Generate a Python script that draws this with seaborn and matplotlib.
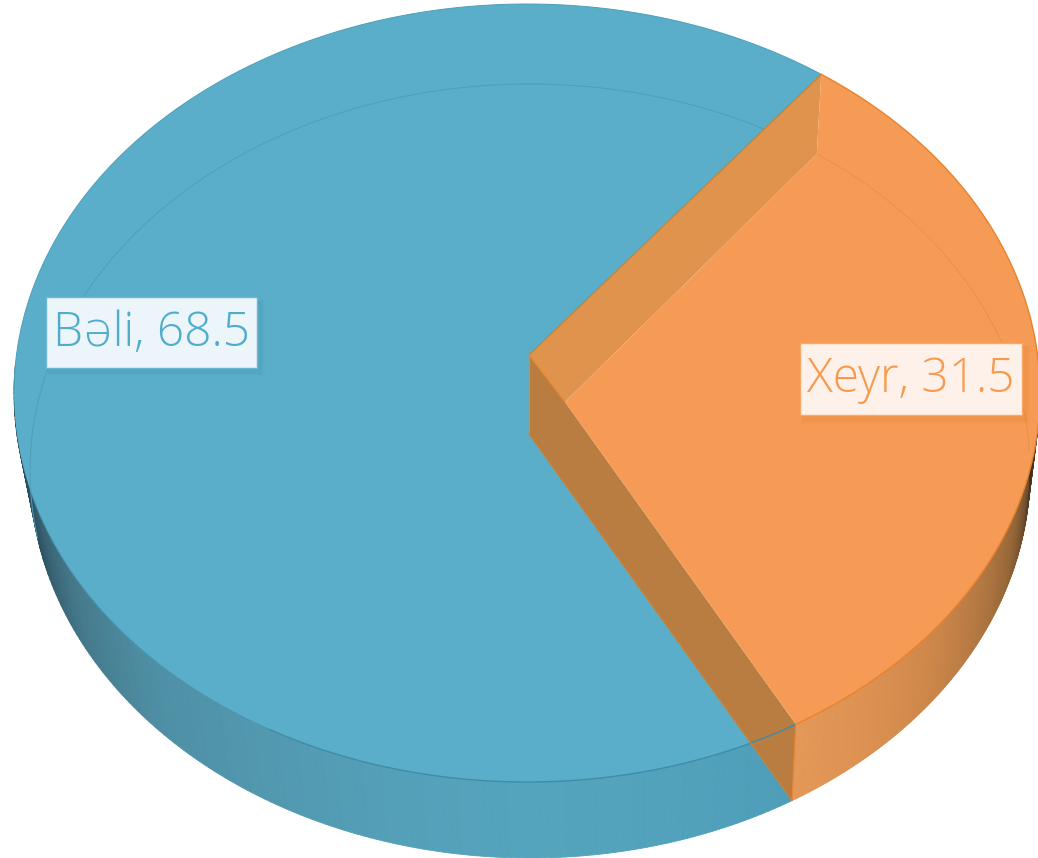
# 3D style pie: perspective top rim and base rim, walls of the cut-out slice
import numpy as np
import matplotlib
matplotlib.use("Agg")
import matplotlib.pyplot as plt
from matplotlib.patches import Polygon, Rectangle
import seaborn as sns

LABELS = ["Bəli", "Xeyr"]
VALUES = [68.5, 31.5]
START_ANGLE = 55.0  # where the orange slice begins, going clockwise

COLORS = ["#5AAEC9", "#F59B55"]
TEXT_COLORS = ["#4FADCB", "#F79A4E"]
BOX_COLORS = ["#ECF5F9", "#FDF1E9"]
BOX_EDGES = ["#6BB8D0", "#F8A867"]
SHADOWS = ["#3F8DA8", "#E0782A"]
BOXES = [(46, 297, 211, 71), (800, 343, 222, 72)]
FONT_SIZES = [34.5, 34.5]

TOP = (527, 393, 513, 389)
BASE = (530, 471, 500, 387)
APEX_TOP = (529, 355)
APEX_BASE = (529, 434)
APEX_INNER = (565, 402)

sns.set_theme(style="white")
plt.rcParams["font.family"] = ["Open Sans", "DejaVu Sans"]


def rim(ellipse, deg):
    cx, cy, a, b = ellipse
    t = np.radians(deg)
    return np.column_stack([cx + a * np.cos(t), cy - b * np.sin(t)])


def draw_band(ax, start, end, stops, n=160):
    angles = np.linspace(start, end, n + 1)
    shades = sns.blend_palette(stops, n)
    for i in range(n):
        pair = angles[i:i + 2]
        quad = np.vstack([rim(TOP, pair), rim(BASE, pair[::-1])])
        ax.add_patch(Polygon(quad, closed=True, fc=shades[i], ec=shades[i], lw=0.6, zorder=1))


def draw_label(ax, text, box, size, color, face, edge, shadow):
    x, y, w, h = box
    for grow, alpha in [(7, 0.06), (4, 0.08), (2, 0.10)]:
        ax.add_patch(Rectangle((x + 4 - grow / 2, y + 5 - grow / 2), w + grow, h + grow,
                               fc=shadow, ec="none", alpha=alpha, zorder=6))
    ax.add_patch(Rectangle((x, y), w, h, fc=face, ec=edge, lw=1, zorder=7))
    ax.text(x + w / 2, y + h / 2 + 1, text, color=color, fontsize=size, fontweight="light",
            ha="center", va="center", zorder=8)


fig = plt.figure(figsize=(10.38, 8.58), dpi=100, facecolor="white")
ax = fig.add_axes([0, 0, 1, 1])
ax.set_xlim(0, 1038)
ax.set_ylim(858, 0)
ax.axis("off")

sweep = VALUES[1] / sum(VALUES) * 360
end_angle = START_ANGLE - sweep

# outer side walls
draw_band(ax, 176, 360 + end_angle,
          ["#1C2E36", "#2C4F5E", "#44798A", "#4E8FA5", "#5298AF", "#53A0B8", "#54A4BD", "#52A2BC", "#4E9EB9"])
draw_band(ax, end_angle, 3, ["#E39858", "#DC9152", "#CE8749", "#B57841", "#966838", "#5E4329", "#33261A"])

# blue top face
arc = rim(TOP, np.linspace(START_ANGLE, 360 + end_angle, 300))
ax.add_patch(Polygon(np.vstack([arc, [APEX_BASE, APEX_TOP]]), closed=True,
                     fc=COLORS[0], ec="none", zorder=2))
base_back = rim(BASE, np.array([START_ANGLE]))[0]
base_front = rim(BASE, np.array([end_angle]))[0]
top_back = rim(TOP, np.array([START_ANGLE]))[0]
top_front = rim(TOP, np.array([end_angle]))[0]

# base rim showing through the blue face
ghost = rim(BASE, np.linspace(62, 190, 200))
ax.plot(ghost[:, 0], ghost[:, 1], color="#4E9FB9", lw=0.7, zorder=3)

# orange walls and top
ax.add_patch(Polygon([APEX_TOP, top_back, base_back, APEX_INNER], closed=True,
                     fc="#E0934D", ec="none", zorder=3))
ax.add_patch(Polygon([APEX_TOP, APEX_INNER, top_front, base_front, APEX_BASE], closed=True,
                     fc="#B97C41", ec="none", zorder=3))
orange_arc = rim(TOP, np.linspace(START_ANGLE, end_angle, 200))
ax.add_patch(Polygon(np.vstack([[APEX_INNER, base_back], orange_arc]), closed=True,
                     fc=COLORS[1], ec="none", zorder=3))

# rims and edges
faint_rim = rim(TOP, np.linspace(195, 240, 80))
ax.plot(faint_rim[:, 0], faint_rim[:, 1], color="#4A93AD", lw=0.7, zorder=4)
blue_rim = rim(TOP, np.linspace(240, 360 + end_angle, 200))
ax.plot(blue_rim[:, 0], blue_rim[:, 1], color="#3E8CA8", lw=1.0, zorder=4)
orange_rim = rim(TOP, np.linspace(START_ANGLE, end_angle, 200))
ax.plot(orange_rim[:, 0], orange_rim[:, 1], color="#E8822E", lw=1.0, zorder=4)
back_rim = rim(TOP, np.linspace(START_ANGLE, 180, 200))
ax.plot(back_rim[:, 0], back_rim[:, 1], color="#4E9FB9", lw=0.7, zorder=2.5)
orange_ghost = rim(BASE, np.linspace(START_ANGLE, 3, 120))
ax.plot(orange_ghost[:, 0], orange_ghost[:, 1], color="#E59149", lw=0.6, zorder=4)
for p, q, c in [(APEX_TOP, top_back, "#B8863F"), (APEX_TOP, APEX_BASE, "#E8872F"),
                (APEX_BASE, base_front, "#C98339"), (top_front, base_front, "#E8872F"),
                (APEX_TOP, APEX_INNER, "#E8872F")]:
    ax.plot([p[0], q[0]], [p[1], q[1]], color=c, lw=0.9, zorder=4)

for i, label in enumerate(LABELS):
    draw_label(ax, f"{label}, {VALUES[i]}", BOXES[i], FONT_SIZES[i], TEXT_COLORS[i],
               BOX_COLORS[i], BOX_EDGES[i], SHADOWS[i])

fig.savefig("out.png", dpi=100, facecolor="white")
